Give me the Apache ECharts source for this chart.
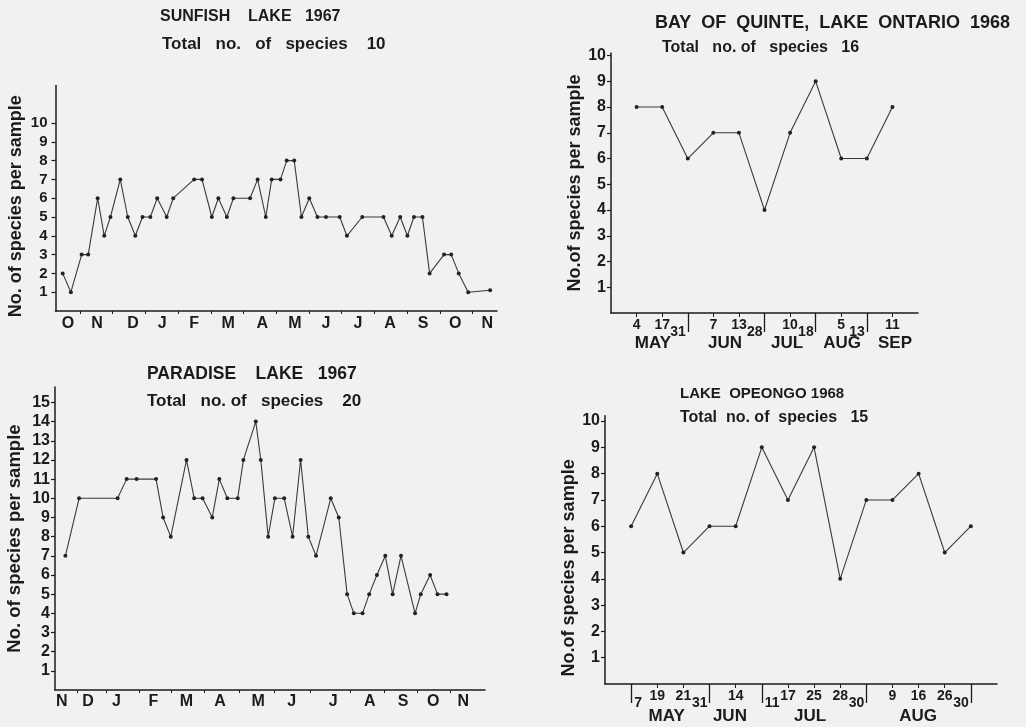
<!DOCTYPE html>
<html>
<head>
<meta charset="utf-8">
<title>Species per sample in four lakes</title>
<script src="https://cdn.jsdelivr.net/npm/echarts@6/dist/echarts.min.js"></script>
<style>
  html, body { margin: 0; padding: 0; background: #f1f1f1; }
  #main { width: 1026px; height: 727px; }
</style>
</head>
<body>
<div id="main"></div>
<script>
// ---- Sunfish Lake 1967: sample position in months from 1 Oct 1966, species per sample
const sunfishMonth = [0.47, 0.72, 1.05, 1.25, 1.54, 1.74, 1.93, 2.23, 2.46, 2.69,
  2.91, 3.15, 3.36, 3.65, 3.85, 4.49, 4.73, 5.03, 5.23, 5.49,
  5.69, 6.20, 6.43, 6.68, 6.86, 7.13, 7.32, 7.55, 7.77, 8.01,
  8.26, 8.52, 8.94, 9.16, 9.63, 10.28, 10.53, 10.79, 11.01, 11.21,
  11.47, 11.69, 12.13, 12.35, 12.58, 12.87, 13.54];
const sunfishSpecies = [2, 1, 3, 3, 6, 4, 5, 7, 5, 4,
  5, 5, 6, 5, 6, 7, 7, 5, 6, 5,
  6, 6, 7, 5, 7, 7, 8, 8, 5, 6,
  5, 5, 5, 4, 5, 5, 4, 5, 4, 5,
  5, 2, 3, 3, 2, 1, 1.1];
const sunfishMonthNames = ['O', 'N', 'D', 'J', 'F', 'M', 'A', 'M', 'J', 'J', 'A', 'S', 'O', 'N'];
const sunfishMonthLabelAt = [0.63, 1.52, 2.62, 3.51, 4.49, 5.53, 6.57, 7.57, 8.52, 9.50, 10.48, 11.49, 12.47, 13.45];
const sunfishMonthTicks = [1, 2, 3, 4, 5, 6, 7, 8, 9, 10, 11, 12, 13];
const sunfishYLabels = [1, 2, 3, 4, 5, 6, 7, 8, 9, 10];

// ---- Paradise Lake 1967: sample position in months from 1 Nov 1966
const paradiseMonth = [0.61, 1.02, 2.17, 2.44, 2.74, 3.32, 3.53, 3.76, 4.23, 4.46,
  4.71, 5.00, 5.21, 5.45, 5.76, 5.93, 6.30, 6.45, 6.67, 6.87,
  7.15, 7.40, 7.64, 7.87, 8.10, 8.54, 8.78, 9.03, 9.23, 9.49,
  9.69, 9.92, 10.17, 10.39, 10.64, 11.06, 11.23, 11.51, 11.73, 12.00];
const paradiseSpecies = [7, 10, 10, 11, 11, 11, 9, 8, 12, 10,
  10, 9, 11, 10, 10, 12, 14, 12, 8, 10,
  10, 8, 12, 8, 7, 10, 9, 5, 4, 4,
  5, 6, 7, 5, 7, 4, 5, 6, 5, 5];
const paradiseMonthNames = ['N', 'D', 'J', 'F', 'M', 'A', 'M', 'J', 'J', 'A', 'S', 'O', 'N'];
const paradiseMonthLabelAt = [0.50, 1.29, 2.14, 3.24, 4.23, 5.23, 6.37, 7.37, 8.61, 9.71, 10.70, 11.60, 12.50];
const paradiseMonthTicks = [0.97, 1.82, 2.81, 3.76, 4.75, 5.80, 6.84, 7.94, 9.13, 10.13, 11.12, 12.10];
const paradiseYLabels = [1, 2, 3, 4, 5, 6, 7, 8, 9, 10, 11, 12, 13, 14, 15];

// ---- Bay of Quinte, Lake Ontario 1968: samples in order, day of month
const quinteDay = [4, 17, 31, 7, 13, 28, 10, 18, 5, 13, 11];
const quinteSpecies = [8, 8, 6, 7, 7, 4, 7, 9, 6, 6, 8];
const quinteMonthEdge = [3, 6, 8, 10];           // samples marked with a long tick
const quinteMonthNames = ['MAY', 'JUN', 'JUL', 'AUG', 'SEP'];
const quinteMonthLabelAt = [1.64, 4.46, 6.88, 9.03, 11.10];
const quinteYLabels = [1, 2, 3, 4, 5, 6, 7, 8, 9, 10];

// ---- Lake Opeongo 1968
const opeongoDay = [7, 19, 21, 31, 14, 11, 17, 25, 28, 30, 9, 16, 26, 30];
const opeongoSpecies = [6, 8, 5, 6, 6, 9, 7, 9, 4, 7, 7, 8, 5, 6];
const opeongoEdgeBefore = [4, 10, 14];           // long tick, day written to its left
const opeongoEdgeAfter = [1, 6];                 // long tick, day written to its right
const opeongoMonthNames = ['MAY', 'JUN', 'JUL', 'AUG'];
const opeongoMonthLabelAt = [2.36, 4.78, 7.85, 11.98];
const opeongoYLabels = [1, 2, 3, 4, 5, 6, 7, 8, 9, 10];

// ---- styling
const FONT = "'Liberation Sans', Arial, Helvetica, sans-serif";
const INK = '#1b1b1b';
const LINE = '#3a3a3a';

function nearestLabel(at, names) {
  return function (v) {
    let best = 0, d = Infinity;
    at.forEach(function (a, i) {
      const dd = Math.abs(a - v);
      if (dd < d) { d = dd; best = i; }
    });
    return names[best];
  };
}

function seqExcept(n, skip) {
  const out = [];
  for (let i = 1; i <= n; i++) if (skip.indexOf(i) < 0) out.push(i);
  return out;
}

function yAxis(grid, max, labels, fontSize, margin, name, nameGap, pad, nameSize) {
  return {
    type: 'value', gridIndex: grid, min: 0, max: max,
    axisLine: { show: true, lineStyle: { color: INK, width: 1.5 } },
    axisTick: { show: true, length: 4, customValues: labels, lineStyle: { color: INK, width: 1.2 } },
    axisLabel: { customValues: labels, fontSize: fontSize, fontWeight: 'bold', fontFamily: FONT, color: INK, margin: margin },
    splitLine: { show: false },
    name: name, nameLocation: 'middle', nameRotate: 90, nameGap: nameGap,
    nameTextStyle: { fontSize: nameSize, fontWeight: 'bold', fontFamily: FONT, color: INK, padding: pad }
  };
}

function xBase(grid, min, max) {
  return {
    type: 'value', gridIndex: grid, min: min, max: max, position: 'bottom', offset: 0,
    splitLine: { show: false }
  };
}

const xAxes = [];
// 0: Sunfish
xAxes.push(Object.assign(xBase(0, 0.25, 13.75), {
  axisLine: { show: true, lineStyle: { color: INK, width: 1.5 } },
  axisTick: { show: true, length: 3, customValues: sunfishMonthTicks, lineStyle: { color: INK } },
  axisLabel: { customValues: sunfishMonthLabelAt, formatter: nearestLabel(sunfishMonthLabelAt, sunfishMonthNames),
    fontSize: 16, fontWeight: 'bold', fontFamily: FONT, color: INK, margin: 5 }
}));
// 1: Paradise
xAxes.push(Object.assign(xBase(1, 0.30, 13.15), {
  axisLine: { show: true, lineStyle: { color: INK, width: 1.5 } },
  axisTick: { show: true, length: 3, customValues: paradiseMonthTicks, lineStyle: { color: INK } },
  axisLabel: { customValues: paradiseMonthLabelAt, formatter: nearestLabel(paradiseMonthLabelAt, paradiseMonthNames),
    fontSize: 16, fontWeight: 'bold', fontFamily: FONT, color: INK, margin: 4 }
}));
// 2-4: Bay of Quinte
const quinteShort = seqExcept(quinteDay.length, quinteMonthEdge);
xAxes.push(Object.assign(xBase(2, 0, 12), {
  axisLine: { show: true, lineStyle: { color: INK, width: 1.5 } },
  axisTick: { show: true, length: 4, customValues: quinteShort, lineStyle: { color: INK } },
  axisLabel: { customValues: quinteShort, formatter: function (v) { return String(quinteDay[Math.round(v) - 1]); },
    fontSize: 14, fontWeight: 'bold', fontFamily: FONT, color: INK, margin: 5 }
}));
xAxes.push(Object.assign(xBase(2, 0, 12), {
  axisLine: { show: false },
  axisTick: { show: true, length: 19, customValues: quinteMonthEdge, lineStyle: { color: INK, width: 1.3 } },
  axisLabel: { customValues: quinteMonthEdge, formatter: function (v) { return String(quinteDay[Math.round(v) - 1]); },
    align: 'right', padding: [0, 2, 0, 0],
    fontSize: 14, fontWeight: 'bold', fontFamily: FONT, color: INK, margin: 12 }
}));
xAxes.push(Object.assign(xBase(2, 0, 12), {
  axisLine: { show: false }, axisTick: { show: false },
  axisLabel: { customValues: quinteMonthLabelAt, formatter: nearestLabel(quinteMonthLabelAt, quinteMonthNames),
    fontSize: 17, fontWeight: 'bold', fontFamily: FONT, color: INK, margin: 22 }
}));
// 5-8: Lake Opeongo
const opeongoShort = seqExcept(opeongoDay.length, opeongoEdgeBefore.concat(opeongoEdgeAfter));
xAxes.push(Object.assign(xBase(3, 0, 15), {
  axisLine: { show: true, lineStyle: { color: INK, width: 1.5 } },
  axisTick: { show: true, length: 4, customValues: opeongoShort, lineStyle: { color: INK } },
  axisLabel: { customValues: opeongoShort, formatter: function (v) { return String(opeongoDay[Math.round(v) - 1]); },
    fontSize: 14, fontWeight: 'bold', fontFamily: FONT, color: INK, margin: 5 }
}));
xAxes.push(Object.assign(xBase(3, 0, 15), {
  axisLine: { show: false },
  axisTick: { show: true, length: 19, customValues: opeongoEdgeBefore, lineStyle: { color: INK, width: 1.3 } },
  axisLabel: { customValues: opeongoEdgeBefore, formatter: function (v) { return String(opeongoDay[Math.round(v) - 1]); },
    align: 'right', padding: [0, 2, 0, 0],
    fontSize: 14, fontWeight: 'bold', fontFamily: FONT, color: INK, margin: 12 }
}));
xAxes.push(Object.assign(xBase(3, 0, 15), {
  axisLine: { show: false },
  axisTick: { show: true, length: 19, customValues: opeongoEdgeAfter, lineStyle: { color: INK, width: 1.3 } },
  axisLabel: { customValues: opeongoEdgeAfter, formatter: function (v) { return String(opeongoDay[Math.round(v) - 1]); },
    align: 'left', padding: [0, 0, 0, 3],
    fontSize: 14, fontWeight: 'bold', fontFamily: FONT, color: INK, margin: 12 }
}));
xAxes.push(Object.assign(xBase(3, 0, 15), {
  axisLine: { show: false }, axisTick: { show: false },
  axisLabel: { customValues: opeongoMonthLabelAt, formatter: nearestLabel(opeongoMonthLabelAt, opeongoMonthNames),
    fontSize: 17, fontWeight: 'bold', fontFamily: FONT, color: INK, margin: 24 }
}));

function lineSeries(xi, yi, xs, ys) {
  return {
    type: 'line', xAxisIndex: xi, yAxisIndex: yi,
    data: xs.map(function (x, i) { return [x, ys[i]]; }),
    symbol: 'circle', symbolSize: 4,
    lineStyle: { color: LINE, width: 1.1 },
    itemStyle: { color: '#222' },
    silent: true
  };
}
const idx = function (arr) { return arr.map(function (_, i) { return i + 1; }); };

function titleAt(text, left, top, size) {
  return { text: text, left: left, top: top, padding: 0,
    textStyle: { fontSize: size, fontWeight: 'bold', fontFamily: FONT, color: INK } };
}

const option = {
  backgroundColor: '#f1f1f1',
  animation: false,
  title: [
    titleAt('SUNFISH    LAKE   1967', 160, 9, 16),
    titleAt('Total   no.   of   species    10', 162, 36, 17),
    titleAt('PARADISE    LAKE   1967', 147, 365, 17.5),
    titleAt('Total   no. of   species    20', 147, 393, 17),
    titleAt('BAY  OF  QUINTE,  LAKE  ONTARIO  1968', 655, 14, 18),
    titleAt('Total   no. of   species   16', 662, 40, 16),
    titleAt('LAKE  OPEONGO 1968', 680, 386, 15),
    titleAt('Total  no. of  species   15', 680, 410, 16)
  ],
  grid: [
    { left: 55.5, top: 85.4, width: 441.5, height: 225.6, outerBoundsMode: 'none' },
    { left: 55, top: 387.1, width: 430, height: 302.9, outerBoundsMode: 'none' },
    { left: 611, top: 53, width: 307, height: 260, outerBoundsMode: 'none' },
    { left: 605, top: 415.8, width: 392, height: 268.2, outerBoundsMode: 'none' }
  ],
  xAxis: xAxes,
  yAxis: [
    yAxis(0, 12, sunfishYLabels, 15, 8, 'No. of species per sample', 30, [0, 16, 0, 0], 18),
    yAxis(1, 15.8, paradiseYLabels, 16, 5, 'No. of species per sample', 31, [0, 0, 0, 0], 18.5),
    yAxis(2, 10.1, quinteYLabels, 16, 5, 'No.of species per sample', 27, [0, 0, 0, 0], 18),
    yAxis(3, 10.2, opeongoYLabels, 16, 5, 'No.of species per sample', 27, [0, 36, 0, 0], 18)
  ],
  series: [
    lineSeries(0, 0, sunfishMonth, sunfishSpecies),
    lineSeries(1, 1, paradiseMonth, paradiseSpecies),
    lineSeries(2, 2, idx(quinteDay), quinteSpecies),
    lineSeries(5, 3, idx(opeongoDay), opeongoSpecies)
  ]
};

const chart = echarts.init(document.getElementById('main'));
chart.setOption(option);
</script>
</body>
</html>
